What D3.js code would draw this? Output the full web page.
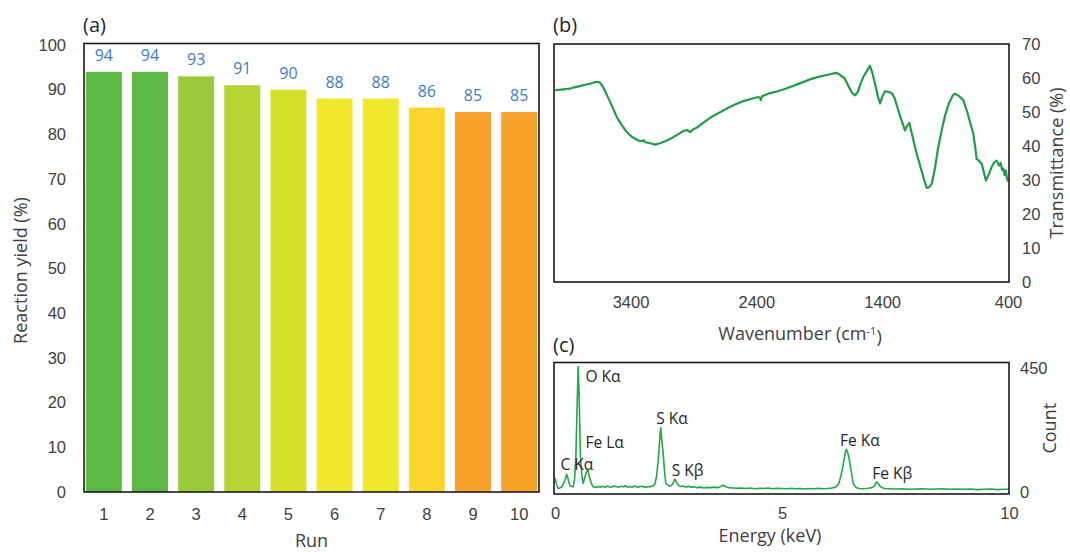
<!DOCTYPE html>
<html>
<head>
<meta charset="utf-8">
<script src="https://d3js.org/d3.v7.min.js"></script>
<style>
body{margin:0;background:#fff;}
svg{font-family:"Open Sans",Lato,sans-serif;}
.tick text{fill:#404040;font-size:16.5px;}
.axis-title{fill:#404040;font-size:18px;}
.panel-tag{fill:#262626;font-size:20px;}
.peak{fill:#262626;font-size:15.5px;}
</style>
</head>
<body>
<div id="chart"></div>
<script>
// (a) reaction yield per run
const runs = [1,2,3,4,5,6,7,8,9,10];
const yields = [94,94,93,91,90,88,88,86,85,85];
const barColors = ["#5cb946","#5cb946","#9aca3c","#b6d334","#d7df2a","#f0e82c","#f0e82c","#fdd52f","#f8a22c","#f8a22c"];

// (b) FTIR spectrum
const wavenumber = [4000,3950,3900,3881,3840,3800,3774,3720,3690,3668,3655,3642,3620,3600,3575,3540,3509,3470,3430,3390,
  3337,3310,3295,3284,3240,3204,3160,3111,3060,3020,2980,2950,2927,2900,2873,2820,2768,2700,2635,2570,
  2503,2440,2384,2372,2365,2355,2305,2250,2186,2120,2050,1974,1900,1815,1770,1745,1722,1700,1670,1640,
  1616,1595,1570,1550,1525,1497,1478,1457,1437,1417,1398,1378,1350,1324,1300,1284,1250,1219,1200,1184,
  1160,1139,1120,1099,1070,1046,1025,1006,980,955,927,900,870,840,821,790,755,720,690,676,
  660,649,630,609,590,575,555,530,510,490,470,458,447,437,428,418,408,400];
const transmittance = [56.4,56.6,56.8,56.9,57.3,57.6,57.9,58.3,58.7,58.9,58.8,58.6,57.5,56.0,54.0,51.2,48.5,46.2,44.1,42.7,
  41.6,41.4,41.7,41.1,40.8,40.4,40.9,41.6,42.6,43.5,44.4,44.7,44.1,44.9,45.4,46.9,48.3,49.7,51.0,52.2,
  53.2,53.9,54.4,54.2,53.5,54.6,55.4,55.9,56.6,57.5,58.5,59.6,60.4,61.1,61.5,61.2,60.5,60.0,57.8,55.6,
  54.9,55.8,58.5,60.3,61.8,63.6,61.5,58.4,55.0,52.5,54.6,56.1,55.9,55.6,54.0,52.0,48.0,44.6,46.0,46.8,
  43.0,39.7,37.0,34.3,30.5,27.7,27.9,28.9,33.5,39.5,44.6,49.0,52.5,54.8,55.4,54.7,53.5,49.5,45.5,43.6,
  39.5,36.2,35.6,34.8,32.0,29.8,31.5,33.8,35.2,35.7,34.2,35.0,33.0,33.3,31.5,32.8,30.5,29.5];
const wnTicks = [3400,2400,1400,400];
const tTicks = [0,10,20,30,40,50,60,70];

// (c) EDS spectrum
const energy = [0.00,0.03,0.07,0.11,0.15,0.20,0.26,0.30,0.33,0.37,0.40,0.43,0.46,0.49,0.51,0.53,0.56,0.59,0.62,0.66,
  0.69,0.72,0.75,0.77,0.81,0.84,0.90,0.95,1.00,1.05,1.10,1.15,1.20,1.25,1.30,1.35,1.40,1.45,1.50,1.55,
  1.60,1.65,1.70,1.75,1.80,1.85,1.90,1.95,2.00,2.05,2.10,2.15,2.20,2.24,2.27,2.29,2.31,2.33,2.35,2.38,
  2.41,2.44,2.48,2.52,2.56,2.60,2.64,2.68,2.72,2.77,2.82,2.88,2.95,3.00,3.06,3.12,3.20,3.28,3.35,3.42,
  3.50,3.58,3.64,3.70,3.76,3.82,3.90,4.00,4.10,4.20,4.30,4.40,4.50,4.60,4.70,4.80,4.90,5.00,5.10,5.20,
  5.30,5.40,5.50,5.60,5.70,5.80,5.90,6.00,6.10,6.18,6.25,6.30,6.34,6.38,6.41,6.44,6.48,6.52,6.57,6.63,
  6.70,6.80,6.90,6.98,7.04,7.08,7.12,7.18,7.25,7.35,7.50,7.65,7.80,7.95,8.10,8.25,8.40,8.55,8.70,8.85,
  9.00,9.15,9.30,9.45,9.60,9.75,9.90,10.0];
const counts = [50,30,13,15,19,35,64,40,23,20,19,45,134,330,455,360,134,60,32,55,
  72,80,62,47,28,19,17,20,18,21,17,22,19,18,22,20,17,21,19,23,
  18,20,17,22,19,18,21,19,17,20,19,22,28,60,110,146,200,233,190,146,
  80,32,26,22,24,32,47,35,24,20,22,18,21,17,19,16,18,15,17,16,
  18,16,19,25,20,16,15,14,15,13,15,12,14,13,15,12,14,13,12,14,
  12,13,11,13,12,14,12,13,15,18,30,60,92,130,155,148,120,80,30,17,
  13,12,14,16,22,37,30,18,13,12,11,12,10,11,12,10,11,12,10,11,
  10,11,9,10,11,9,10,10];
const eTicks = [0,5,10];
const cTicks = [0,450];
const peakLabels = [
  {text:"O K\u03b1", e:0.67, c:398},
  {text:"Fe L\u03b1", e:0.67, c:159},
  {text:"C K\u03b1", e:0.12, c:81},
  {text:"S K\u03b1", e:2.23, c:247},
  {text:"S K\u03b2", e:2.57, c:60},
  {text:"Fe K\u03b1", e:6.28, c:167},
  {text:"Fe K\u03b2", e:6.99, c:48}
];

const svg = d3.select("#chart").append("svg")
  .attr("width", 1070)
  .attr("height", 552);

function frame(g, x0, y0, x1, y1){
  g.append("rect")
    .attr("x", x0).attr("y", y0)
    .attr("width", x1 - x0).attr("height", y1 - y0)
    .attr("fill", "none")
    .attr("stroke", "#1a1a1a")
    .attr("stroke-width", 1.6);
}

// ---------- panel (a) ----------
let a = {left:84, right:539, top:45, bottom:492};
let xa = d3.scaleBand().domain(runs).range([a.left, a.right]).paddingInner(0.22).paddingOuter(0.04);
let ya = d3.scaleLinear().domain([0,100]).range([a.bottom, a.top]);
let ga = svg.append("g");

ga.selectAll(".bar")
  .data(runs)
  .enter().append("rect")
    .attr("x", d => xa(d))
    .attr("width", xa.bandwidth())
    .attr("y", (d,i) => ya(yields[i]))
    .attr("height", (d,i) => ya(0) - ya(yields[i]))
    .attr("fill", (d,i) => barColors[i]);

ga.selectAll(".val")
  .data(runs)
  .enter().append("text")
    .attr("x", d => xa(d) + xa.bandwidth()/2)
    .attr("y", (d,i) => ya(yields[i]) - 11)
    .attr("text-anchor", "middle")
    .attr("fill", "#3a7dc4")
    .attr("font-size", "16px")
    .text((d,i) => yields[i]);

ga.append("g")
  .attr("transform", "translate(" + a.left + ",0)")
  .call(d3.axisLeft(ya).tickValues(d3.range(0,101,10)).tickSize(0).tickPadding(18))
  .call(g => g.select(".domain").remove());

ga.append("g")
  .attr("transform", "translate(0," + a.bottom + ")")
  .call(d3.axisBottom(xa).tickSize(0).tickPadding(16))
  .call(g => g.select(".domain").remove());

frame(ga, a.left, a.top - 1.5, a.right, a.bottom);

ga.append("text").attr("class","axis-title")
  .attr("transform", "translate(21," + ((a.top + a.bottom)/2 + 2) + ") rotate(-90)")
  .attr("text-anchor","middle").attr("dy","0.35em")
  .text("Reaction yield (%)");
ga.append("text").attr("class","axis-title")
  .attr("x", (a.left + a.right)/2).attr("y", 541)
  .attr("text-anchor","middle").attr("dy","0.35em")
  .text("Run");
ga.append("text").attr("class","panel-tag")
  .attr("x", a.left - 1).attr("y", 25).attr("dy","0.35em")
  .text("(a)");

// ---------- panel (b) ----------
let b = {left:554, right:1009, top:44, bottom:282};
let xb = d3.scaleLinear().domain([4000,400]).range([b.left + 1, b.right - 1]);
let yb = d3.scaleLinear().domain([0,70]).range([b.bottom, b.top]);
let gb = svg.append("g");

gb.append("path")
  .datum(wavenumber.map((w,i) => [w, transmittance[i]]))
  .attr("fill","none")
  .attr("stroke","#1f9d48")
  .attr("stroke-width", 2.2)
  .attr("stroke-linejoin","round")
  .attr("d", d3.line().x(d => xb(d[0])).y(d => yb(d[1])));

gb.append("g")
  .attr("transform", "translate(" + b.right + ",0)")
  .call(d3.axisRight(yb).tickValues(tTicks).tickSize(0).tickPadding(13))
  .call(g => g.select(".domain").remove());
gb.append("g")
  .attr("transform", "translate(0," + b.bottom + ")")
  .call(d3.axisBottom(xb).tickValues(wnTicks).tickFormat(d3.format("d")).tickSize(0).tickPadding(14))
  .call(g => g.select(".domain").remove());

frame(gb, b.left, b.top, b.right, b.bottom);

let wl = gb.append("text").attr("class","axis-title")
  .attr("x", 800).attr("y", 334)
  .attr("text-anchor","middle").attr("dy","0.35em");
wl.append("tspan").text("Wavenumber (cm");
wl.append("tspan").attr("dy","-0.45em").attr("font-size","11px").text("-1");
wl.append("tspan").attr("dy","0.45em").text(")");

gb.append("text").attr("class","axis-title")
  .attr("transform", "translate(1057," + ((b.top + b.bottom)/2) + ") rotate(-90)")
  .attr("text-anchor","middle").attr("dy","0.35em")
  .text("Transmittance (%)");
gb.append("text").attr("class","panel-tag")
  .attr("x", b.left - 1).attr("y", 25).attr("dy","0.35em")
  .text("(b)");

// ---------- panel (c) ----------
let c = {left:554, right:1009, top:362.5, bottom:494};
let xc = d3.scaleLinear().domain([0,10]).range([c.left + 1, c.right]);
let yc = d3.scaleLinear().domain([-7,470]).range([c.bottom, c.top]);
let gc = svg.append("g");

gc.append("path")
  .datum(energy.map((e,i) => [e, counts[i]]))
  .attr("fill","none")
  .attr("stroke","#22a845")
  .attr("stroke-width", 1.6)
  .attr("stroke-linejoin","round")
  .attr("d", d3.line().x(d => xc(d[0])).y(d => yc(d[1])));

gc.selectAll(".peak")
  .data(peakLabels)
  .enter().append("text")
    .attr("class","peak")
    .attr("x", d => xc(d.e))
    .attr("y", d => yc(d.c))
    .text(d => d.text);

gc.append("g")
  .attr("transform", "translate(" + c.right + ",0)")
  .call(d3.axisRight(yc).tickValues(cTicks).tickSize(0).tickPadding(11))
  .call(g => g.select(".domain").remove());
gc.append("g")
  .attr("transform", "translate(0," + c.bottom + ")")
  .call(d3.axisBottom(xc).tickValues(eTicks).tickSize(0).tickPadding(13))
  .call(g => g.select(".domain").remove());

frame(gc, c.left, c.top, c.right, c.bottom);

gc.append("text").attr("class","axis-title")
  .attr("x", 770).attr("y", 536)
  .attr("text-anchor","middle").attr("dy","0.35em")
  .text("Energy (keV)");
gc.append("text").attr("class","axis-title")
  .attr("transform", "translate(1050," + ((c.top + c.bottom)/2) + ") rotate(-90)")
  .attr("text-anchor","middle").attr("dy","0.35em")
  .text("Count");
gc.append("text").attr("class","panel-tag")
  .attr("x", c.left - 1).attr("y", 345).attr("dy","0.35em")
  .text("(c)");
</script>
</body>
</html>
